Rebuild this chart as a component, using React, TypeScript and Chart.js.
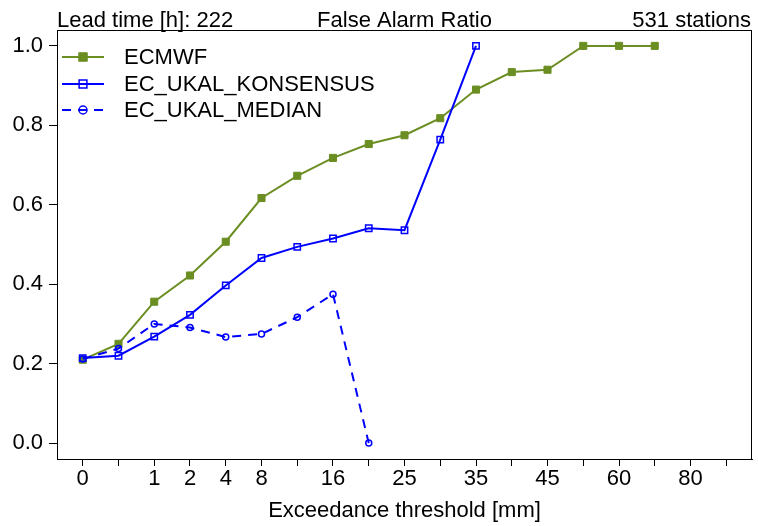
import React, { useEffect, useRef } from "react";
import { Chart, registerables } from "chart.js";

Chart.register(...registerables);

const thresholdLabels = ["0", "", "1", "2", "4", "8", "", "16", "", "25", "", "35", "", "45", "", "60", "", "80", ""];
const yTickValues = [0, 0.2, 0.4, 0.6, 0.8, 1.0];

const ecmwf = [0.21, 0.25, 0.356, 0.422, 0.507, 0.617, 0.673, 0.718, 0.753, 0.775, 0.818, 0.89, 0.934, 0.94, 1.0, 1.0, 1.0];
const konsensus = [0.214, 0.22, 0.268, 0.323, 0.397, 0.466, 0.494, 0.515, 0.541, 0.536, 0.764, 1.0];
const median = [0.212, 0.238, 0.3, 0.291, 0.267, 0.275, 0.317, 0.375, 0.0];

const titleLeft = "Lead time [h]: 222";
const titleCenter = "False Alarm Ratio";
const titleRight = "531 stations";
const xTitle = "Exceedance threshold [mm]";

const FONT = "22px 'Liberation Sans', Arial, sans-serif";
const GREEN = "#6b8e23";
const BLUE = "#0000ff";
const DASH = [9, 7];

const toPoints = (arr: number[]) => arr.map((y, i) => ({ x: i, y }));

const decorPlugin = {
  id: "decor",
  afterDraw(chart: any) {
    const { ctx, chartArea } = chart;
    const { left, right, top, bottom } = chartArea;
    ctx.save();
    // box
    ctx.strokeStyle = "#000";
    ctx.lineWidth = 1;
    ctx.setLineDash([]);
    ctx.strokeRect(left + 0.5, top + 0.5, right - left - 1, bottom - top);
    // titles
    ctx.fillStyle = "#000";
    ctx.font = FONT;
    ctx.textBaseline = "alphabetic";
    ctx.textAlign = "left";
    ctx.fillText(titleLeft, left, top - 3);
    ctx.textAlign = "center";
    ctx.fillText(titleCenter, (left + right) / 2, top - 3);
    ctx.textAlign = "right";
    ctx.fillText(titleRight, right - 1, top - 3);
    ctx.textAlign = "center";
    ctx.fillText(xTitle, (left + right) / 2, bottom + 58);

    // legend
    const ds = chart.data.datasets;
    const rowY = [top + 27, top + 54, top + 80];
    ds.forEach((d: any, i: number) => {
      const y = rowY[i];
      const x0 = left + 5;
      const x1 = left + 47;
      const xm = (x0 + x1) / 2;
      ctx.strokeStyle = d.borderColor;
      ctx.lineWidth = d.borderWidth;
      ctx.setLineDash(d.borderDash || []);
      ctx.beginPath();
      ctx.moveTo(x0, y);
      ctx.lineTo(x1, y);
      ctx.stroke();
      ctx.setLineDash([]);
      ctx.lineWidth = d.pointBorderWidth;
      ctx.strokeStyle = d.pointBorderColor;
      if (d.pointStyle === "rect") {
        const s = (d.pointRadius + 1) * Math.SQRT1_2;
        ctx.beginPath();
        ctx.rect(xm - s, y - s, 2 * s, 2 * s);
        if (d.pointBackgroundColor !== "transparent") {
          ctx.fillStyle = d.pointBackgroundColor;
          ctx.fill();
        }
        ctx.stroke();
      } else {
        ctx.beginPath();
        ctx.arc(xm, y, d.pointRadius + 1, 0, Math.PI * 2);
        ctx.stroke();
      }
      ctx.fillStyle = "#000";
      ctx.font = FONT;
      ctx.textAlign = "left";
      ctx.textBaseline = "middle";
      ctx.fillText(d.label, left + 67, y + 1);
    });
    ctx.restore();
  },
};

export default function App() {
  const ref = useRef<HTMLCanvasElement | null>(null);
  useEffect(() => {
    if (!ref.current) return;
    Chart.defaults.font.family = "'Liberation Sans', Arial, sans-serif";
    const chart = new Chart(ref.current, {
      type: "line",
      data: {
        datasets: [
          {
            label: "ECMWF",
            data: toPoints(ecmwf),
            borderColor: GREEN,
            backgroundColor: GREEN,
            borderWidth: 2,
            pointStyle: "rect",
            pointRadius: 5,
            pointBorderWidth: 1,
            pointBorderColor: GREEN,
            pointBackgroundColor: GREEN,
            order: 3,
          },
          {
            label: "EC_UKAL_KONSENSUS",
            data: toPoints(konsensus),
            borderColor: BLUE,
            backgroundColor: BLUE,
            borderWidth: 2,
            pointStyle: "rect",
            pointRadius: 4.5,
            pointBorderWidth: 1.5,
            pointBorderColor: BLUE,
            pointBackgroundColor: "transparent",
            order: 2,
          },
          {
            label: "EC_UKAL_MEDIAN",
            data: toPoints(median),
            borderColor: BLUE,
            backgroundColor: BLUE,
            borderWidth: 2,
            borderDash: DASH,
            pointStyle: "circle",
            pointRadius: 3,
            pointBorderWidth: 1.5,
            pointBorderColor: BLUE,
            pointBackgroundColor: "transparent",
            order: 1,
          },
        ] as any,
      },
      options: {
        animation: false,
        responsive: false,
        events: [],
        layout: { padding: { top: 30, right: 2, left: 0, bottom: 0 } },
        plugins: { legend: { display: false }, tooltip: { enabled: false }, title: { display: false } },
        elements: { line: { tension: 0 } },
        scales: {
          x: {
            type: "linear",
            min: -0.72,
            max: 18.72,
            afterBuildTicks: (scale: any) => {
              scale.ticks = thresholdLabels.map((_, i) => ({ value: i }));
            },
            afterFit: (scale: any) => {
              scale.height = 67;
              scale.paddingLeft = 0;
              scale.paddingRight = 0;
            },
            ticks: {
              autoSkip: false,
              maxRotation: 0,
              padding: 0,
              color: "#000",
              font: { size: 22 },
              callback: (v: any) => thresholdLabels[Math.round(Number(v))] ?? "",
            },
            grid: { drawOnChartArea: false, drawTicks: true, tickLength: 7, color: "#000", tickColor: "#000" },
            border: { display: true, color: "#000", width: 1 },
          },
          y: {
            type: "linear",
            min: -0.04,
            max: 1.04,
            afterBuildTicks: (scale: any) => {
              scale.ticks = yTickValues.map((v) => ({ value: v }));
            },
            afterFit: (scale: any) => {
              scale.width = 57;
              scale.paddingTop = 0;
              scale.paddingBottom = 0;
            },
            ticks: {
              padding: 6,
              color: "#000",
              font: { size: 22 },
              callback: (v: any) => Number(v).toFixed(1),
            },
            grid: { drawOnChartArea: false, drawTicks: true, tickLength: 8, color: "#000", tickColor: "#000" },
            border: { display: true, color: "#000", width: 1 },
          },
        },
      } as any,
      plugins: [decorPlugin],
    });
    return () => chart.destroy();
  }, []);
  return (
    <div style={{ position: "absolute", left: 0, top: 0, width: 758, height: 526, background: "#fff" }}>
      <canvas ref={ref} width={758} height={526} style={{ display: "block" }} />
    </div>
  );
}
